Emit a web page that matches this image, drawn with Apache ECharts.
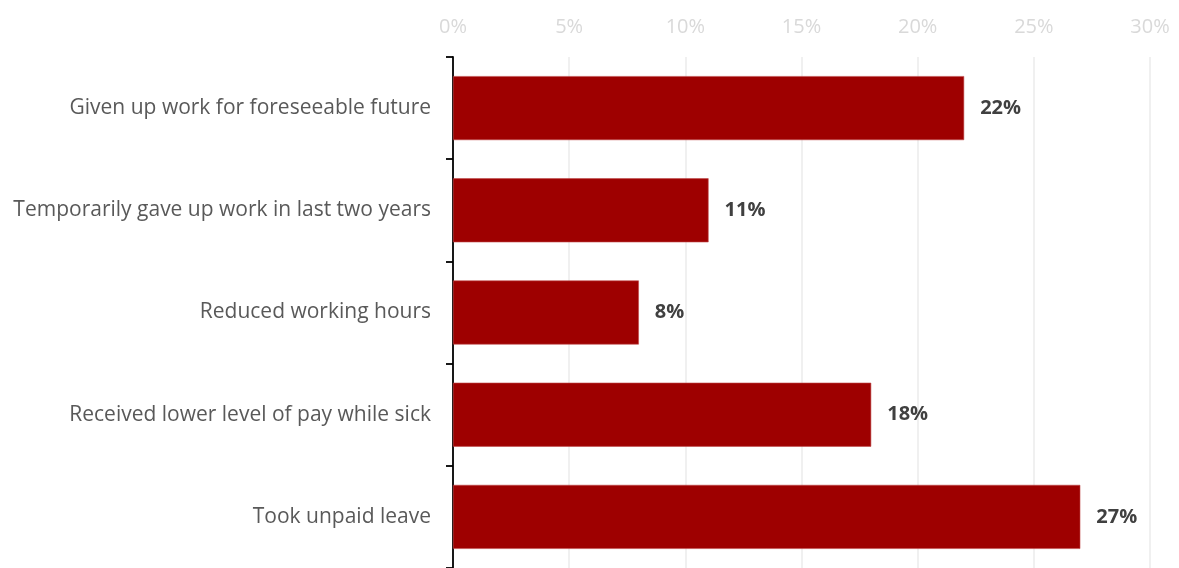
<!DOCTYPE html>
<html>
<head>
<meta charset="utf-8">
<script src="https://cdn.jsdelivr.net/npm/echarts@6/dist/echarts.min.js"></script>
<style>
  html, body { margin: 0; padding: 0; background: #ffffff; }
  #chart { width: 1179px; height: 568px; }
</style>
</head>
<body>
<div id="chart"></div>
<script>
// Ways in which people's work was affected by illness
const categories = [
  'Given up work for foreseeable future',
  'Temporarily gave up work in last two years',
  'Reduced working hours',
  'Received lower level of pay while sick',
  'Took unpaid leave'
];
const shares = [22, 11, 8, 18, 27];
const axisTicks = [0, 5, 10, 15, 20, 25, 30];

const FONT = '"Open Sans", Lato, sans-serif';

const chart = echarts.init(document.getElementById('chart'), null, { renderer: 'canvas' });

chart.setOption({
  animation: false,
  backgroundColor: '#ffffff',
  grid: { left: 453, right: 29, top: 57, height: 513, containLabel: false },
  xAxis: {
    type: 'value',
    position: 'top',
    min: axisTicks[0],
    max: axisTicks[axisTicks.length - 1],
    interval: axisTicks[1] - axisTicks[0],
    axisLine: { show: false },
    axisTick: { show: false },
    axisLabel: {
      formatter: '{value}%',
      color: '#d9d9d9',
      fontFamily: FONT,
      fontSize: 20,
      margin: 20
    },
    splitLine: { show: true, lineStyle: { color: '#ebebeb', width: 1.5 } }
  },
  yAxis: {
    type: 'category',
    data: categories,
    inverse: true,
    axisLine: { show: true, lineStyle: { color: '#000000', width: 1.8 } },
    axisTick: { show: true, length: 7, lineStyle: { color: '#000000', width: 1.8 } },
    axisLabel: {
      color: '#595959',
      fontFamily: FONT,
      fontSize: 21,
      margin: 22
    }
  },
  series: [{
    type: 'bar',
    data: shares,
    barWidth: 64,
    itemStyle: { color: '#9e0000', borderColor: '#c04848', borderWidth: 0.6 },
    label: {
      show: true,
      position: 'right',
      distance: 16,
      formatter: '{c}%',
      color: '#404040',
      fontFamily: FONT,
      fontWeight: 'bold',
      fontSize: 20
    }
  }]
});
</script>
</body>
</html>
